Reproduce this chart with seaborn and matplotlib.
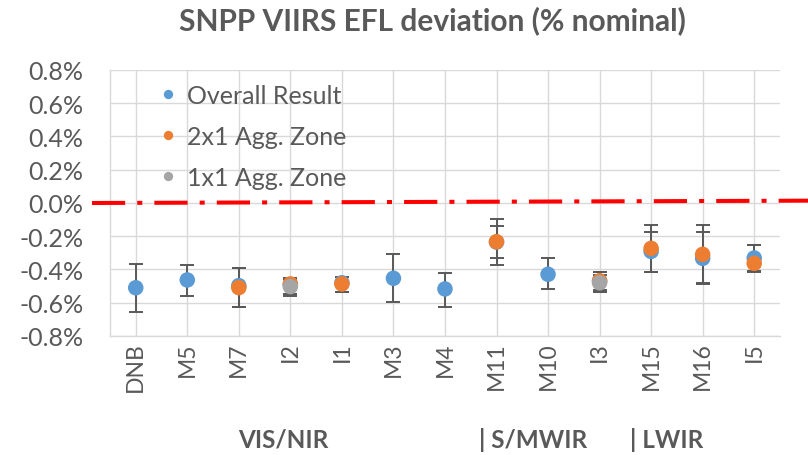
import numpy as np
import pandas as pd
import matplotlib
matplotlib.use("Agg")
import matplotlib.pyplot as plt
import seaborn as sns

# Data (EFL deviation, % of nominal)
bands = ["DNB", "M5", "M7", "I2", "I1", "M3", "M4", "M11", "M10", "I3", "M15", "M16", "I5"]

overall = [-0.510, -0.463, -0.497, -0.490, -0.480, -0.453, -0.517, -0.235, -0.429, -0.470, -0.291, -0.333, -0.331]
overall_lo = [-0.658, -0.561, -0.626, -0.550, -0.535, -0.594, -0.624, -0.373, -0.517, -0.533, -0.417, -0.490, -0.409]
overall_hi = [-0.365, -0.373, -0.391, -0.460, -0.443, -0.307, -0.421, -0.096, -0.333, -0.417, -0.130, -0.130, -0.251]

zone2_bands = ["M7", "I2", "I1", "M11", "I3", "M15", "M16", "I5"]
zone2 = [-0.509, -0.487, -0.487, -0.233, -0.468, -0.273, -0.309, -0.363]
zone2_lo = [-0.626, -0.557, -0.535, -0.331, -0.523, -0.417, -0.483, -0.413]
zone2_hi = [-0.391, -0.451, -0.443, -0.136, -0.433, -0.176, -0.176, -0.251]

zone1_bands = ["I2", "I3"]
zone1 = [-0.503, -0.480]
zone1_lo = [-0.550, -0.535]
zone1_hi = [-0.460, -0.417]

series_names = ["Overall Result", "2x1 Agg. Zone", "1x1 Agg. Zone"]
colors = ["#5B9BD5", "#ED7D31", "#A5A5A5"]
yticks = [-0.8, -0.6, -0.4, -0.2, 0.0, 0.2, 0.4, 0.6, 0.8]
groups = ["VIS/NIR", "| S/MWIR", "| LWIR"]

sns.set_theme(style="whitegrid")
plt.rcParams["font.family"] = ["Lato", "DejaVu Sans"]
txt = "#595959"

df = pd.concat([
    pd.DataFrame({"band": bands, "dev": overall, "lo": overall_lo, "hi": overall_hi, "series": series_names[0]}),
    pd.DataFrame({"band": zone2_bands, "dev": zone2, "lo": zone2_lo, "hi": zone2_hi, "series": series_names[1]}),
    pd.DataFrame({"band": zone1_bands, "dev": zone1, "lo": zone1_lo, "hi": zone1_hi, "series": series_names[2]}),
], ignore_index=True)

fig = plt.figure(figsize=(8.08, 4.56), dpi=100)
ax = fig.add_axes([0.1361, 0.261, 0.8292, 0.5833])

# register categories in order
ax.plot(bands, overall, alpha=0)

# error bars first, markers on top
for name in series_names:
    d = df[df.series == name]
    ax.errorbar(d.band, d.dev, yerr=[d.dev - d.lo, d.hi - d.dev], fmt="none",
                ecolor="#595959", elinewidth=1.4, capsize=5, capthick=1.4, zorder=3)

sns.scatterplot(data=df, x="band", y="dev", hue="series", hue_order=series_names,
                palette=colors, s=125, edgecolor="none", ax=ax, zorder=4, legend=True)

# red reference line, runs past the plot area
line, = ax.plot([-0.85, 13.1], [0.0, 0.014], color="#FF0000", lw=2.9,
                clip_on=False, zorder=5, solid_capstyle="butt")
line.set_dashes((8.25, 3, 1.25, 3))
line.set_dash_capstyle("butt")

ax.set_xlim(-0.5, 12.5)
ax.set_ylim(-0.8, 0.8)
ax.set_yticks(yticks)
ax.set_yticklabels([f"{v:.1f}%" for v in yticks])
ax.set_xlabel("")
ax.set_ylabel("")
ax.grid(True, color="#D9D9D9", lw=1.0)
ax.set_axisbelow(True)
for s in ["top", "right"]:
    ax.spines[s].set_visible(False)
for s in ["left", "bottom"]:
    ax.spines[s].set_color("#D9D9D9")
    ax.spines[s].set_linewidth(1.0)
ax.tick_params(axis="both", length=0, colors=txt)
ax.tick_params(axis="x", pad=4, labelsize=16.5)
ax.tick_params(axis="y", pad=19, labelsize=18)
plt.setp(ax.get_xticklabels(), rotation=90)

leg = ax.legend(loc="upper left", bbox_to_anchor=(0.049, 0.985), frameon=False,
                fontsize=18, labelspacing=0.72, handletextpad=0.15, markerscale=0.6,
                borderaxespad=0, handlelength=1.2)
for t in leg.get_texts():
    t.set_color(txt)

fig.text(0.535, 0.955, "SNPP VIIRS EFL deviation (% nominal)", ha="center", va="center",
         fontsize=21.5, fontweight="bold", color=txt)
for label, xpos in zip(groups, [0.295, 0.593, 0.78]):
    fig.text(xpos, 0.035, label, ha="left", va="center", fontsize=17.5,
             fontweight="bold", color=txt)

fig.savefig("out.png", dpi=100)
